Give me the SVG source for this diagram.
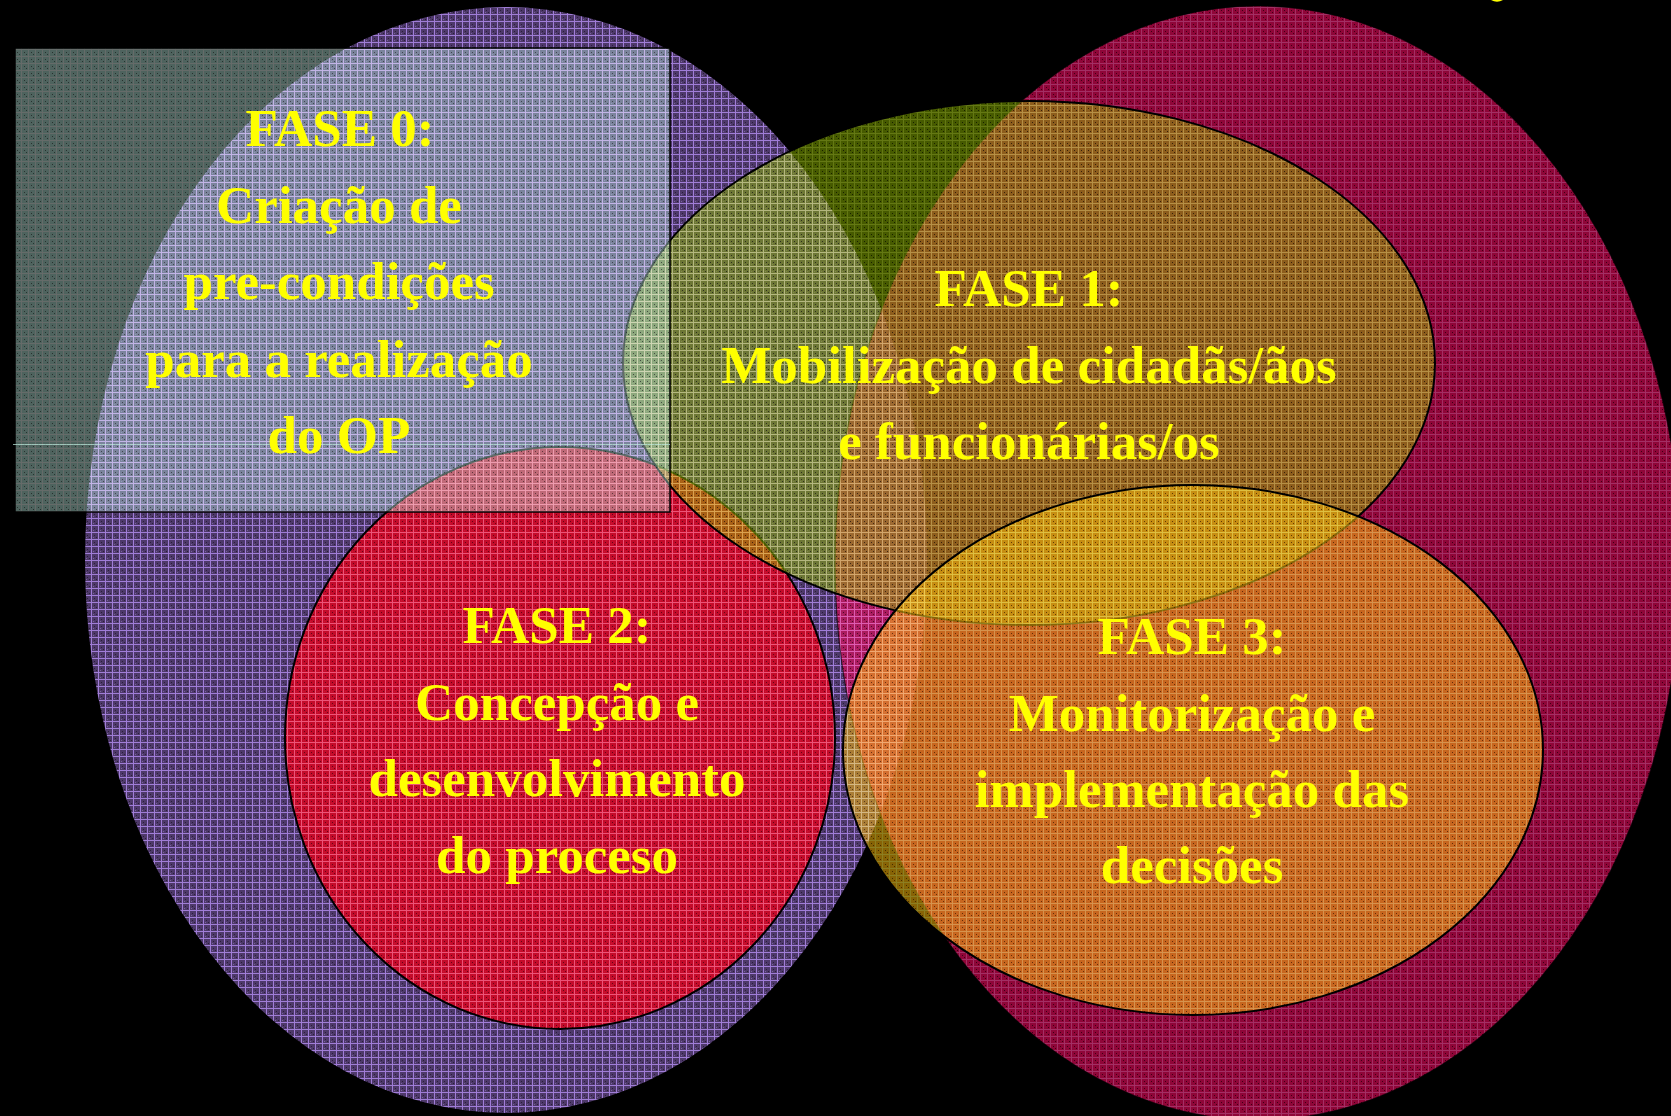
<svg xmlns="http://www.w3.org/2000/svg" width="1671" height="1116" viewBox="0 0 1671 1116">
<style>
  .lbl { font-family: "Liberation Serif", "Times New Roman", serif; font-weight: bold; font-size: 53px; fill: #ffff00; text-anchor: middle; }
  .edge { stroke: #000000; stroke-width: 2; }
</style>
<defs>
  <pattern id="pPurple" width="7" height="7" patternUnits="userSpaceOnUse">
    <rect width="7" height="7" fill="#4e396a"/>
    <path d="M0 0.5H7M0.5 0V7" stroke="#a07dd7" stroke-width="1"/>
    <rect x="3" y="3" width="1" height="1" fill="#2a1e3a"/>
    <rect x="5" y="5" width="1" height="1" fill="#2a1e3a"/>
    <rect x="2" y="5" width="1" height="1" fill="#7a62a0"/>
  </pattern>
  <pattern id="pCrimson" width="7" height="7" patternUnits="userSpaceOnUse">
    <rect width="7" height="7" fill="#e00a58"/>
    <path d="M0 0.5H7M0.5 0V7" stroke="#ff4a9c" stroke-width="1"/>
    <rect x="3" y="3" width="1" height="1" fill="#600020"/>
    <rect x="5" y="5" width="1" height="1" fill="#600020"/>
  </pattern>
  <pattern id="pRed" width="7" height="7" patternUnits="userSpaceOnUse">
    <rect width="7" height="7" fill="#e2001a"/>
    <path d="M0 0.5H7M0.5 0V7" stroke="#ff4a60" stroke-width="1"/>
    <rect x="3" y="3" width="1" height="1" fill="#700010"/>
    <rect x="5" y="5" width="1" height="1" fill="#700010"/>
  </pattern>
  <pattern id="pGreen" width="7" height="7" patternUnits="userSpaceOnUse">
    <rect width="7" height="7" fill="#8cb400"/>
    <path d="M0 0.5H7M0.5 0V7" stroke="#c8f028" stroke-width="1"/>
    <rect x="3" y="3" width="1" height="1" fill="#304000"/>
    <rect x="5" y="5" width="1" height="1" fill="#304000"/>
  </pattern>
  <pattern id="pOrange" width="7" height="7" patternUnits="userSpaceOnUse">
    <rect width="7" height="7" fill="#f5b40a"/>
    <path d="M0 0.5H7M0.5 0V7" stroke="#ffe63c" stroke-width="1"/>
    <rect x="3" y="3" width="1" height="1" fill="#805000"/>
    <rect x="5" y="5" width="1" height="1" fill="#805000"/>
  </pattern>
  <pattern id="pMint" width="7" height="7" patternUnits="userSpaceOnUse">
    <rect width="7" height="7" fill="#b9ebe1"/>
    <path d="M0 0.5H7M0.5 0V7" stroke="#f0fffa" stroke-width="1"/>
    <rect x="3" y="3" width="1" height="1" fill="#607870"/>
    <rect x="5" y="5" width="1" height="1" fill="#607870"/>
  </pattern>
</defs>

<rect width="1671" height="1116" fill="#000000"/>

<g id="bg-purple">
  <ellipse cx="506" cy="560" rx="421" ry="553" fill="url(#pPurple)"/>
</g>

<g id="bg-crimson">
  <ellipse cx="1258" cy="563" rx="423" ry="557" fill="url(#pCrimson)" fill-opacity="0.64" stroke="#000" stroke-width="1.2" stroke-opacity="0.6"/>
</g>

<g id="node-fase2">
  <ellipse class="edge" cx="560" cy="738" rx="275" ry="291" fill="url(#pRed)" fill-opacity="0.8"/>
  <text class="lbl" x="557" y="643">FASE 2:</text>
  <text class="lbl" x="557" y="720">Concepção e</text>
  <text class="lbl" x="557" y="796">desenvolvimento</text>
  <text class="lbl" x="557" y="873">do proceso</text>
</g>

<g id="node-fase1">
  <ellipse class="edge" cx="1029" cy="363" rx="406" ry="262" fill="url(#pGreen)" fill-opacity="0.5"/>
  <text class="lbl" x="1029" y="306">FASE 1:</text>
  <text class="lbl" x="1029" y="383">Mobilização de cidadãs/ãos</text>
  <text class="lbl" x="1029" y="459">e funcionárias/os</text>
</g>

<g id="node-fase3">
  <ellipse class="edge" cx="1193" cy="750" rx="350" ry="265" fill="url(#pOrange)" fill-opacity="0.55"/>
  <text class="lbl" x="1192" y="654">FASE 3:</text>
  <text class="lbl" x="1192" y="731">Monitorização e</text>
  <text class="lbl" x="1192" y="807">implementação das</text>
  <text class="lbl" x="1192" y="883">decisões</text>
</g>

<g id="node-fase0">
  <rect x="15" y="48" width="655" height="464" fill="url(#pMint)" fill-opacity="0.42" stroke="#000" stroke-width="1.5"/>
  <line x1="13" y1="444.5" x2="670" y2="444.5" stroke="#c0eee0" stroke-width="1" stroke-opacity="0.7"/>
  <text class="lbl" x="340" y="146">FASE 0:</text>
  <text class="lbl" x="339" y="223">Criação de</text>
  <text class="lbl" x="339" y="299">pre-condições</text>
  <text class="lbl" x="339" y="377">para a realização</text>
  <text class="lbl" x="339" y="453">do OP</text>
</g>

<g id="connectors"></g>

<path d="M1491 0 Q1497 3.5 1503 0 Z" fill="#ffff00"/>
</svg>
